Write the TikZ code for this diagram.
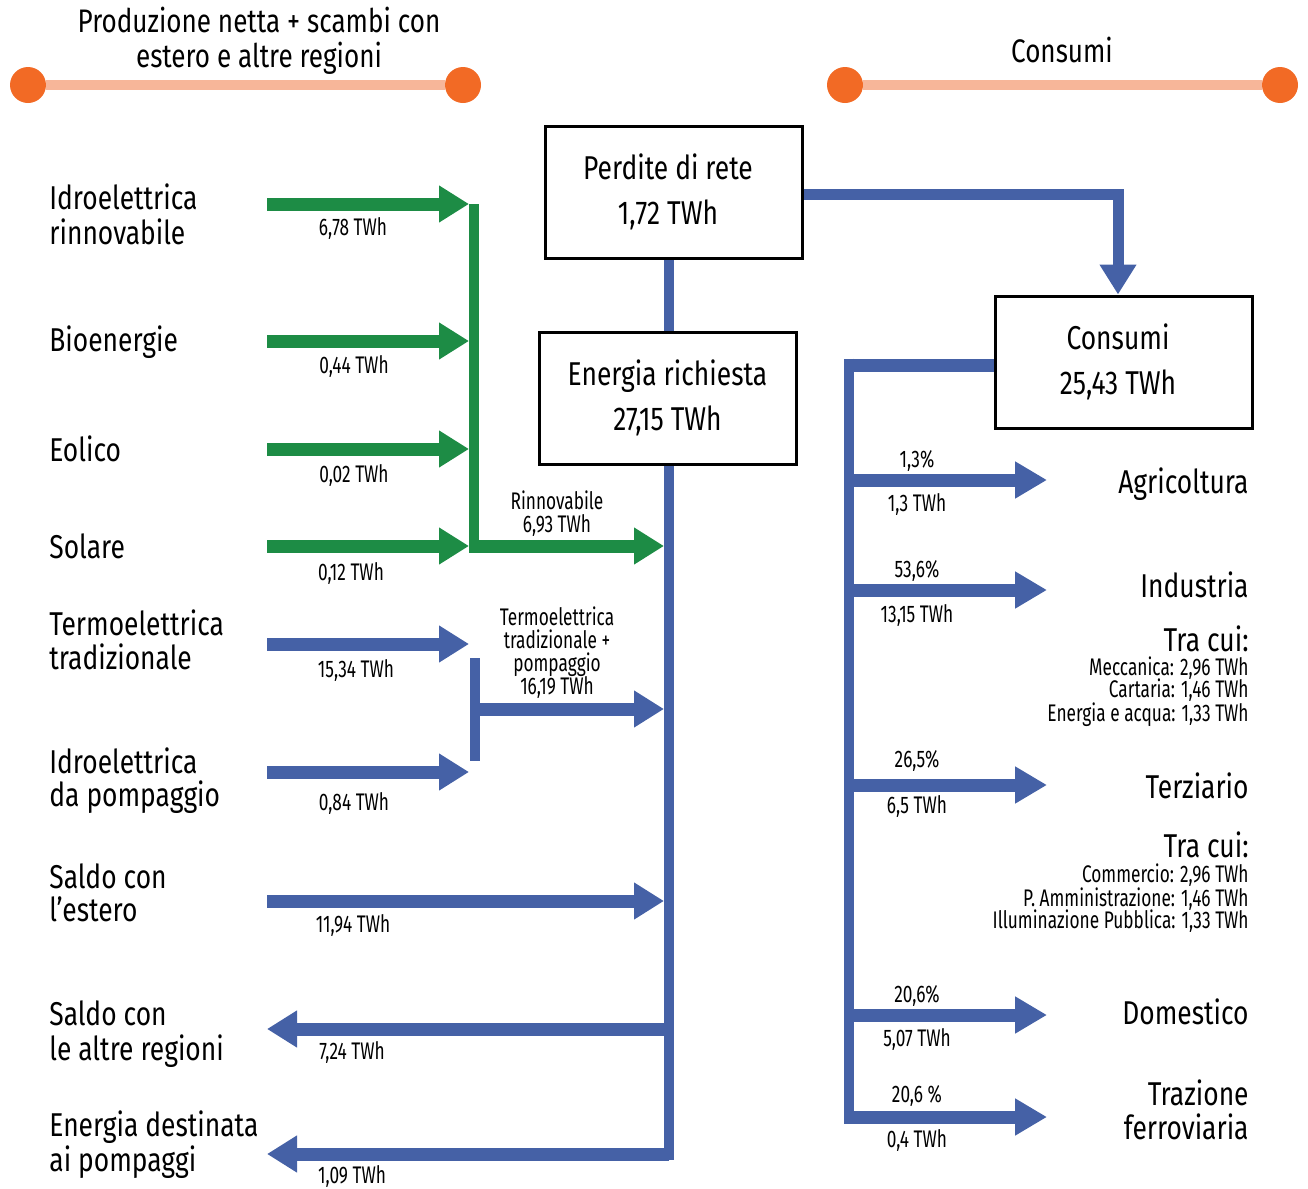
\documentclass[tikz,border=0pt]{standalone}
\usepackage{fontspec}
\setmainfont{Fira Sans}[FakeStretch=0.8]
\newfontfamily\narrowfont{Fira Sans}[FakeStretch=0.72]
\usetikzlibrary{arrows.meta}
\definecolor{gr}{HTML}{1D8C45}
\definecolor{bl}{HTML}{4561A6}
\definecolor{dotc}{HTML}{F26A25}
\definecolor{peach}{HTML}{F7B699}
\begin{document}
\begin{tikzpicture}[x=0.5pt,y=-0.5pt,
  big/.style={font=\fontsize{16.5}{20}\selectfont, inner sep=0pt},
  small/.style={font=\narrowfont\fontsize{12}{14}\selectfont, inner sep=0pt},
  headtxt/.style={font=\fontsize{16.3}{19}\selectfont, inner sep=0pt, anchor=base},
  lbl/.style={big, anchor=base west},
  rlbl/.style={big, anchor=base east},
  rsub/.style={small, anchor=base east},
  val/.style={small, anchor=base},
  box/.style={draw, line width=1.5pt, fill=white, minimum width=128.5pt, minimum height=66pt, align=center, font=\fontsize{16.5}{22.5}\selectfont, inner sep=0pt},
  shaft/.style={line width=6.5pt},
  bar/.style={line width=5pt},
  tipl/.style={-{Triangle[length=15pt,width=17.5pt]}},
  tipr/.style={-{Triangle[length=16pt,width=17.5pt]}},
  hdot/.style={circle, fill=dotc, minimum size=18pt, inner sep=0pt},
]
\useasboundingbox (0,0) rectangle (1308,1189);

% headers
\node[hdot] (hl1) at (28,85) {};
\node[hdot] (hl2) at (463,85) {};
\node[hdot] (hr1) at (845,85) {};
\node[hdot] (hr2) at (1280,85) {};
\draw[peach, line width=5pt] (hl1) -- (hl2);
\draw[peach, line width=5pt] (hr1) -- (hr2);
\node[headtxt] (h1a) at (259,32) {Produzione netta + scambi con};
\node[headtxt] (h1b) at (259,67) {estero e altre regioni};
\node[headtxt] (h2) at (1062,62) {Consumi};

% coordinates
\coordinate (tkb) at (669,1160);
\coordinate (gbt) at (474,204);
\coordinate (gbb) at (474,553);
\coordinate (bbt) at (475,658);
\coordinate (bbb) at (475,761);
\coordinate (rtt) at (849,358.5);
\coordinate (rtb) at (849,1123.5);

% main trunk (drawn below boxes)
\draw[bl, bar] (669,258) -- (tkb);

% boxes
\node[box] (P) at (673.5,192) {\hspace*{-5.5pt}Perdite di rete\\\hspace*{-5.5pt}1,72 TWh};
\node[box] (E) at (667.5,398) {Energia richiesta\\27,15 TWh};
\node[box] (C) at (1124,362) {\hspace*{-6pt}Consumi\\\hspace*{-6pt}25,43 TWh};

% left labels
\node[lbl] (l1a) at (49,209.3) {Idroelettrica};
\node[lbl] (l1b) at (49,244) {rinnovabile};
\node[lbl] (l2) at (49,351.7) {Bioenergie};
\node[lbl] (l3) at (49,461.7) {Eolico};
\node[lbl] (l4) at (49,558.3) {Solare};
\node[lbl] (l5a) at (49,635) {Termoelettrica};
\node[lbl] (l5b) at (49,669.3) {tradizionale};
\node[lbl] (l6a) at (49,773.3) {Idroelettrica};
\node[lbl] (l6b) at (49,806.7) {da pompaggio};
\node[lbl] (l7a) at (49,888.3) {Saldo con};
\node[lbl] (l7b) at (49,921.7) {l’estero};
\node[lbl] (l8a) at (49,1025) {Saldo con};
\node[lbl] (l8b) at (49,1060.7) {le altre regioni};
\node[lbl] (l9a) at (49,1136.7) {Energia destinata};
\node[lbl] (l9b) at (49,1171.7) {ai pompaggi};

% source coordinates
\coordinate (s1) at (267,204);
\coordinate (s2) at (267,341);
\coordinate (s3) at (267,449);
\coordinate (s4) at (267,546);
\coordinate (s5) at (267,644);
\coordinate (s6) at (267,772);
\coordinate (s7) at (267,901);
\coordinate (s8) at (267,1029);
\coordinate (s9) at (267,1154);
\coordinate (gx) at (469,0);
\coordinate (tl) at (664,0);

% green flows
\draw[gr, bar] (gbt) -- (gbb);
\foreach \s in {s1,s2,s3,s4} \draw[gr, shaft, tipl] (\s) -- (\s -| gx);
\draw[gr, shaft, tipl] (469,546) -- (664,546);

% blue flows
\draw[bl, bar] (bbt) -- (bbb);
\draw[bl, shaft, tipl] (s5) -- (s5 -| gx);
\draw[bl, shaft, tipl] (s6) -- (s6 -| gx);
\draw[bl, shaft, tipl] (470,709) -- (664,709);
\draw[bl, shaft, tipl] (s7) -- (s7 -| tl);
\draw[bl, shaft, tipl] (s8 -| tkb) -- (s8);
\draw[bl, shaft, tipl] (s9 -| tkb) -- (s9);

% value labels left
\node[val] (v1) at (353,235) {6,78 TWh};
\node[val] (v2) at (354,373) {0,44 TWh};
\node[val] (v3) at (354,482) {0,02 TWh};
\node[val] (v4) at (351,580) {0,12 TWh};
\node[val] (v5a) at (557,509) {Rinnovabile};
\node[val] (v5b) at (557,532) {6,93 TWh};
\node[val] (v6) at (356,677) {15,34 TWh};
\node[val] (v7) at (354,810) {0,84 TWh};
\node[val] (v8a) at (557,625) {Termoelettrica};
\node[val] (v8b) at (557,648) {tradizionale +};
\node[val] (v8c) at (557,671) {pompaggio};
\node[val] (v8d) at (557,694) {16,19 TWh};
\node[val] (v9) at (353,932) {11,94 TWh};
\node[val] (v10) at (352,1059) {7,24 TWh};
\node[val] (v11) at (352,1183) {1,09 TWh};

% losses to consumption
\draw[bl, line width=5.5pt, tipl] ([yshift=-1pt]P.east) -| ([xshift=-3pt]C.north);

% consumption trunk
\draw[bl, bar] (rtt) -- (rtb);
\draw[bl, shaft] ([yshift=-1.5pt]C.west) -- ([yshift=-1.5pt]C.west -| 844,0);

\foreach \y/\n in {480/a1,590/a2,785/a3,1015/a4,1117/a5} {
  \coordinate (o\n) at (1047,\y);
  \draw[bl, shaft, tipr] (844,\y) -- (o\n);
}

% percentages and values
\node[val] (p1) at (917,467) {1,3\%};
\node[val] (q1) at (917,511.5) {1,3 TWh};
\node[val] (p2) at (917,577) {53,6\%};
\node[val] (q2) at (917,622) {13,15 TWh};
\node[val] (p3) at (917,767) {26,5\%};
\node[val] (q3) at (917,813) {6,5 TWh};
\node[val] (p4) at (917,1002) {20,6\%};
\node[val] (q4) at (917,1046) {5,07 TWh};
\node[val] (p5) at (917,1102) {20,6 \%};
\node[val] (q5) at (917,1147) {0,4 TWh};

% right labels
\node[rlbl] (r1) at (1249,493) {Agricoltura};
\node[rlbl] (r2) at (1249,597) {Industria};
\node[rlbl] (r2t) at (1249,651) {Tra cui:};
\node[rsub] (r2a) at (1249,675) {Meccanica: 2,96 TWh};
\node[rsub] (r2b) at (1249,697) {Cartaria: 1,46 TWh};
\node[rsub] (r2c) at (1249,721) {Energia e acqua: 1,33 TWh};
\node[rlbl] (r3) at (1249,798) {Terziario};
\node[rlbl] (r3t) at (1249,857) {Tra cui:};
\node[rsub] (r3a) at (1249,882) {Commercio: 2,96 TWh};
\node[rsub] (r3b) at (1249,906) {P. Amministrazione: 1,46 TWh};
\node[rsub] (r3c) at (1249,928) {Illuminazione Pubblica: 1,33 TWh};
\node[rlbl] (r4) at (1249,1024) {Domestico};
\node[rlbl] (r5a) at (1249,1105) {Trazione};
\node[rlbl] (r5b) at (1249,1139) {ferroviaria};
\end{tikzpicture}
\end{document}
